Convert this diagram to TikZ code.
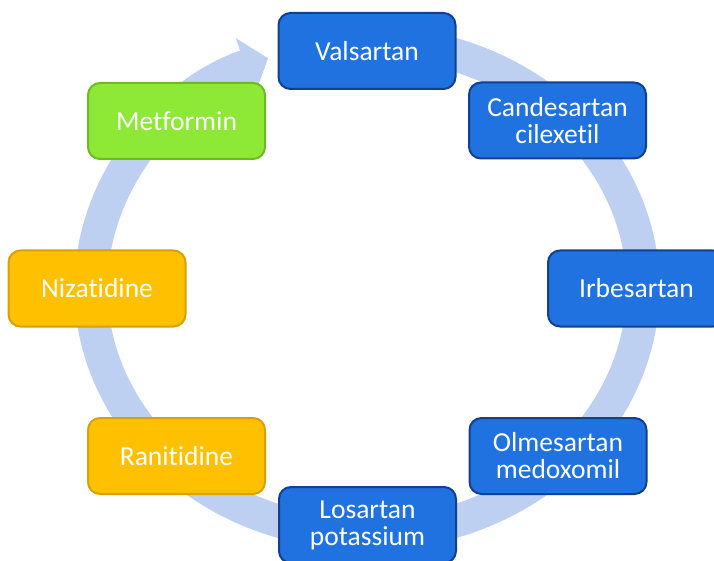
\documentclass[tikz,border=0pt]{standalone}
\usepackage{fontspec}
\setmainfont{Carlito}[Ligatures=NoCommon]
\usetikzlibrary{arrows.meta,calc}
\definecolor{ringblue}{HTML}{BDD0F2}
\definecolor{boxblue}{HTML}{1F72E0}
\definecolor{boxblueedge}{HTML}{133F8C}
\definecolor{boxgreen}{HTML}{8EE836}
\definecolor{boxgreenedge}{HTML}{6CBB22}
\definecolor{boxgold}{HTML}{FFC000}
\definecolor{boxgoldedge}{HTML}{D9A000}
\begin{document}
\begin{tikzpicture}[x=1pt,y=1pt,
  drug/.style={rounded corners=12pt, minimum width=177pt, minimum height=76pt,
    text=white, align=center, font=\fontsize{27.5}{27}\selectfont,
    line width=2pt, inner sep=0pt},
  arb/.style={drug, fill=boxblue, draw=boxblueedge},
  htwo/.style={drug, fill=boxgold, draw=boxgoldedge},
  metf/.style={drug, fill=boxgreen, draw=boxgreenedge},
  ring/.style={draw=ringblue, line width=33pt, -{Triangle[length=24pt,width=58pt,fill=ringblue]}}
]
\useasboundingbox (0,0) rectangle (714,560);
\coordinate (c) at (367,272);
\draw[ring] ($(c)+(80:276 and 246)$) arc[start angle=80, end angle=-249, x radius=276, y radius=246];
\node[arb] (val) at (367,509) {Valsartan};
\node[arb] (can) at (557.5,439.5) {Candesartan\\cilexetil};
\node[arb] (irb) at (636.5,271.5) {Irbesartan};
\node[arb] (olm) at (558,104) {Olmesartan\\medoxomil};
\node[arb] (los) at (367.5,35) {Losartan\\potassium};
\node[htwo] (ran) at (176.5,104) {Ranitidine};
\node[htwo] (niz) at (97,271.5) {Nizatidine};
\node[metf] (met) at (176.5,439) {Metformin};
\end{tikzpicture}
\end{document}
